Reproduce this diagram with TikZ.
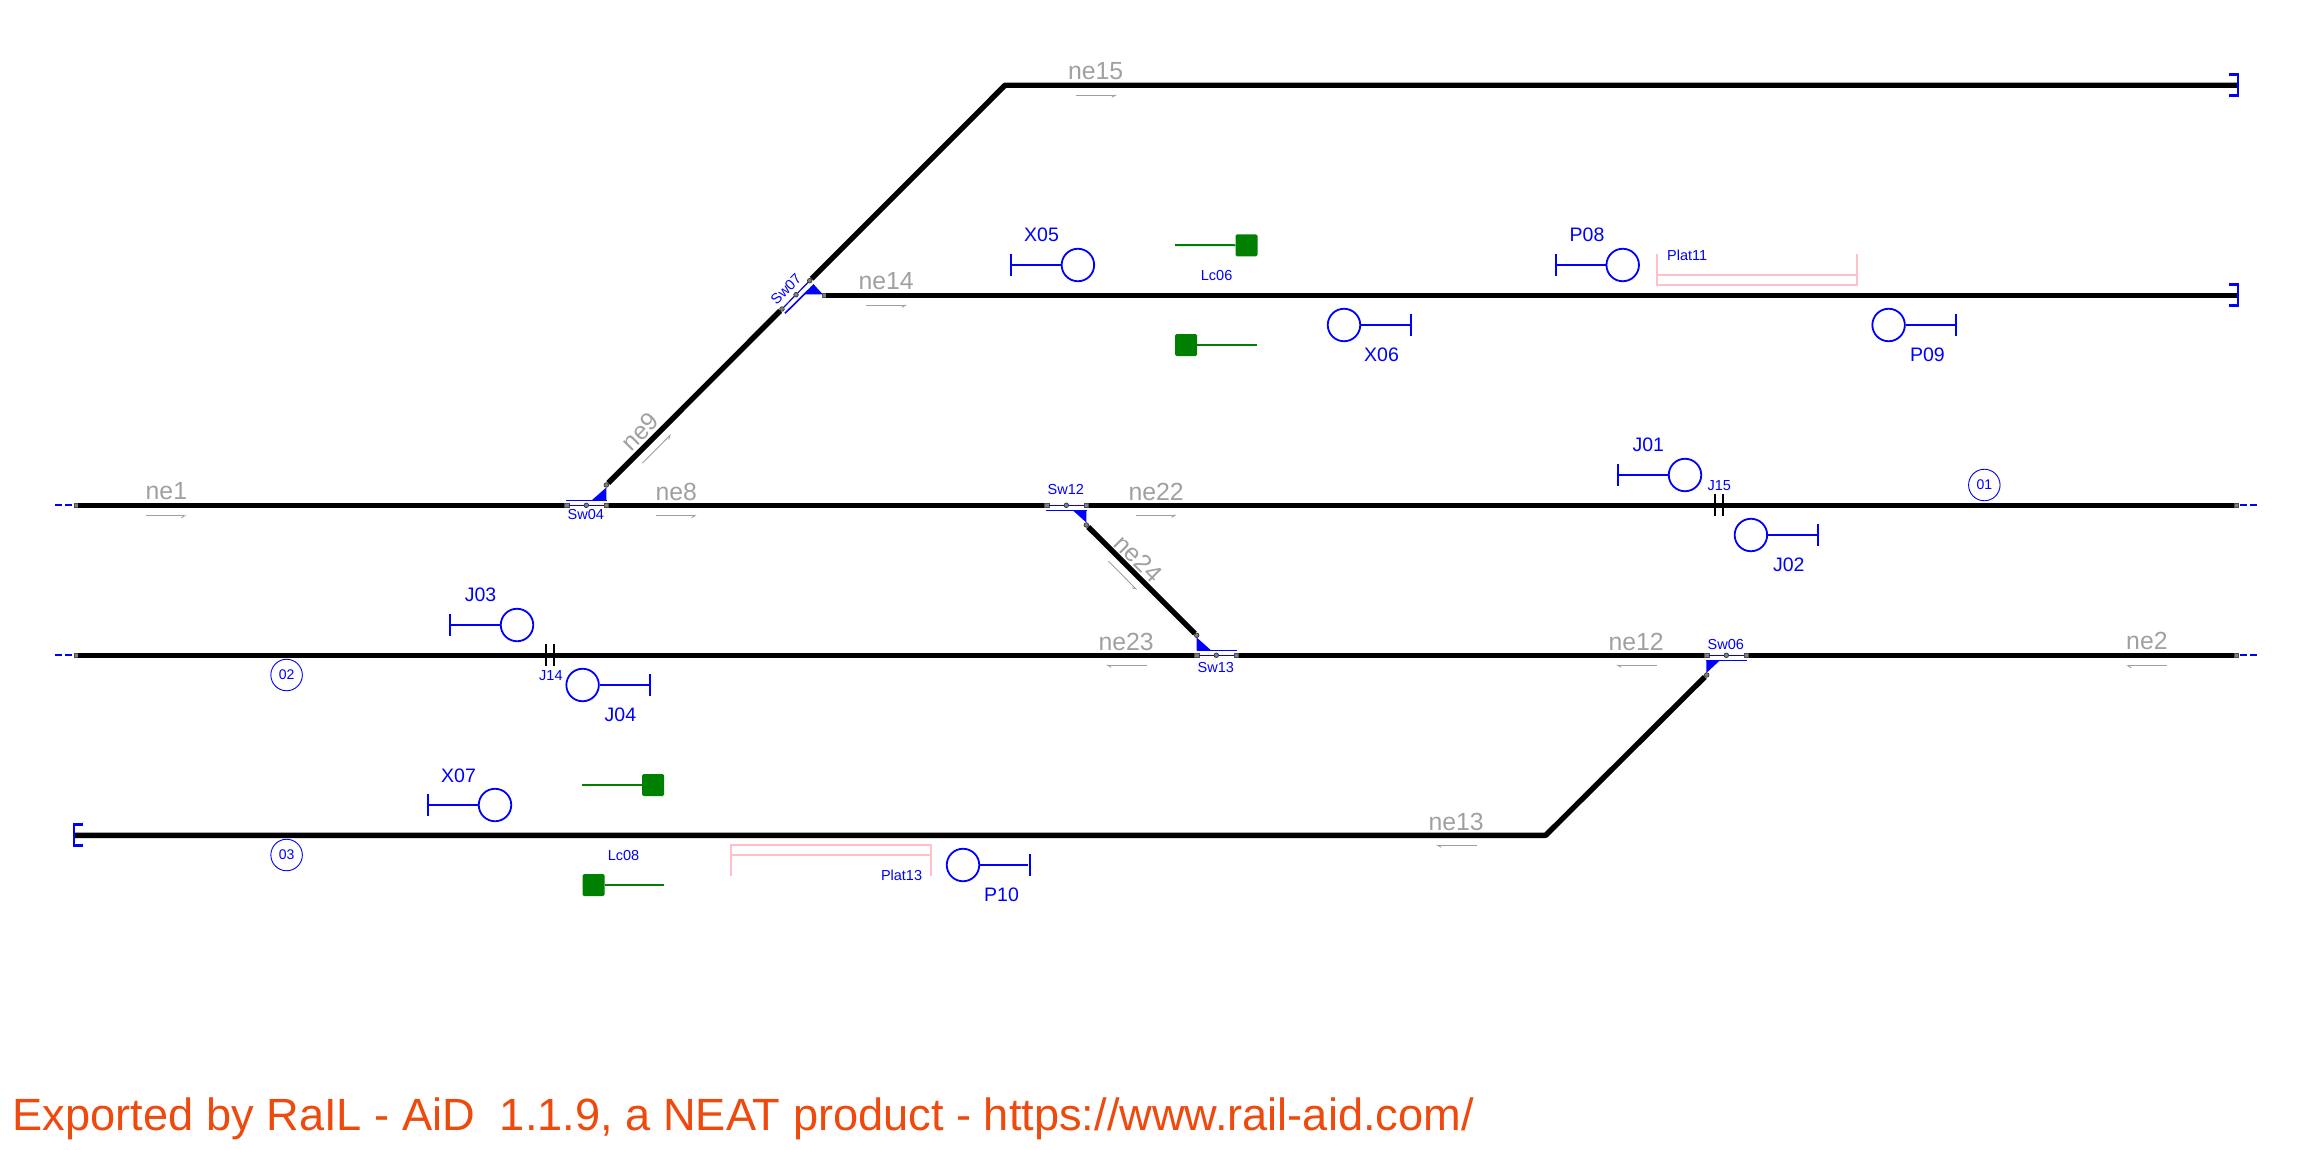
\documentclass[tikz,border=0pt]{standalone}
\usepackage{fontspec}
\setmainfont{Liberation Sans}
\usetikzlibrary{arrows.meta}
\definecolor{sigblue}{RGB}{0,0,255}
\definecolor{lcgreen}{RGB}{0,128,0}
\definecolor{nelabel}{RGB}{160,160,160}
\definecolor{platpink}{RGB}{255,192,203}
\definecolor{exportred}{RGB}{238,74,14}
\tikzset{
 track/.style={line width=5.4pt, black, line join=round},
 thinsw/.style={line width=1.2pt, sigblue},
 swbar/.style={line width=1.6pt, sigblue},
 swtri/.style={fill=sigblue, draw=none},
 ptsq/.style={rectangle, draw=black!70, fill=black!50, line width=.5pt, inner sep=0, minimum size=4.2pt},
 ptrd/.style={circle, draw=black!80, fill=black!50, line width=.7pt, inner sep=0, minimum size=4.6pt},
 freeend/.style={line width=2pt, sigblue, dash pattern=on 7pt off 3pt},
 stopper/.style={line width=2.6pt, sigblue, line cap=rect},
 sigcirc/.style={circle, draw=sigblue, line width=1.8pt, inner sep=0, minimum size=32.5pt},
 sigbar/.style={rectangle, fill=sigblue, inner sep=0, minimum width=2pt, minimum height=22pt},
 sigline/.style={line width=2.2pt, sigblue},
 joint/.style={rectangle, fill=black, inner sep=0, minimum width=1.8pt, minimum height=22pt},
 lcsq/.style={rectangle, rounded corners=1.5pt, fill=lcgreen, inner sep=0, minimum size=22pt},
 lcline/.style={line width=2pt, lcgreen},
 plat/.style={line width=1.6pt, platpink},
 trkno/.style={circle, draw=sigblue, line width=.9pt, inner sep=0, minimum size=31.5pt, text=sigblue, font=\fontsize{14}{14}\selectfont},
 nelbl/.style={anchor=base west, inner sep=0, text=nelabel, font=\fontsize{24.8}{25}\selectfont},
 sglbl/.style={anchor=base west, inner sep=0, text=sigblue, font=\fontsize{19.5}{20}\selectfont},
 smlbl/.style={anchor=base west, inner sep=0, text=sigblue, font=\fontsize{14.5}{15}\selectfont},
 dirr/.style={line width=.9pt, nelabel, -{Straight Barb[right, length=3.5pt, width=4pt]}},
 dirl/.style={line width=.9pt, nelabel, -{Straight Barb[left, length=3.5pt, width=4pt]}},
}
\begin{document}
\begin{tikzpicture}[x=1pt, y=-1pt]
\useasboundingbox (0,0) rectangle (2312,1150);
\coordinate (fr1l) at (55,505.3);
\coordinate (fr1r) at (2257,505.3);
\coordinate (fr2l) at (55,655.3);
\coordinate (fr2r) at (2257,655.3);
\node[ptsq] (t1s) at (76,505.3){};
\node[ptsq] (t1e) at (2236.4,505.3){};
\node[ptsq] (t2s) at (76,655.3){};
\node[ptsq] (t2e) at (2236.4,655.3){};
\coordinate (t3s) at (75,835.3);
\coordinate (t3k) at (1545.7,835.3);
\coordinate (t14e) at (2238,295.3);
\coordinate (t15k) at (1005,85.3);
\coordinate (t15e) at (2238,85.3);
\node[ptsq] (sw04a) at (566.7,505.3){};
\node[ptrd] (sw04m) at (586.3,505.3){};
\node[ptsq] (sw04b) at (606.3,505.3){};
\node[ptrd] (sw04d) at (606.3,485){};
\node[ptsq] (sw12a) at (1046.7,505.3){};
\node[ptrd] (sw12m) at (1066.3,505.3){};
\node[ptsq] (sw12b) at (1086.3,505.3){};
\node[ptrd] (sw12d) at (1086.3,525){};
\node[ptsq] (sw13a) at (1196.7,655.3){};
\node[ptrd] (sw13m) at (1216.3,655.3){};
\node[ptsq] (sw13b) at (1236.3,655.3){};
\node[ptrd] (sw13d) at (1196.7,635.3){};
\node[ptsq] (sw06a) at (1706.7,655.3){};
\node[ptrd] (sw06m) at (1726.3,655.3){};
\node[ptsq] (sw06b) at (1746.3,655.3){};
\node[ptrd] (sw06d) at (1706.7,675){};
\node[ptrd] (sw07a) at (782,309){};
\node[ptrd] (sw07m) at (796,294.7){};
\node[ptrd] (sw07b) at (809.7,280.7){};
\node[ptsq] (sw07d) at (824,295.3){};
\draw[freeend] (fr1l) -- (t1s);
\draw[freeend] (fr2l) -- (t2s);
\draw[freeend] (fr1r) -- (t1e);
\draw[freeend] (fr2r) -- (t2e);
\draw[track] (t1s) -- (sw04a);
\draw[track] (sw04b) -- (sw12a);
\draw[track] (sw12b) -- (t1e);
\draw[track] (t2s) -- (sw13a);
\draw[track] (sw13b) -- (sw06a);
\draw[track] (sw06b) -- (t2e);
\draw[track] (t3s) -- (t3k) -- (sw06d);
\draw[track] (sw04d) -- (sw07a);
\draw[track] (sw12d) -- (sw13d);
\draw[track] (sw07d) -- (t14e);
\draw[track] (sw07b) -- (t15k) -- (t15e);
\draw[thinsw] (sw04a) -- (sw04m);
\draw[thinsw] (sw04m) -- (sw04b);
\draw[thinsw] (sw12a) -- (sw12m);
\draw[thinsw] (sw12m) -- (sw12b);
\draw[thinsw] (sw13a) -- (sw13m);
\draw[thinsw] (sw13m) -- (sw13b);
\draw[thinsw] (sw06a) -- (sw06m);
\draw[thinsw] (sw06m) -- (sw06b);
\draw[thinsw] (sw07a) -- (sw07m);
\draw[thinsw] (sw07m) -- (sw07b);
\draw[swbar] (566,500.3) -- (607,500.3);
\draw[swbar] (1046,510.3) -- (1087,510.3);
\draw[swbar] (1197,650.3) -- (1237,650.3);
\draw[swbar] (1706,660.3) -- (1747,660.3);
\draw[swbar] (785,313.3) -- (814,284.7);
\fill[swtri] (591.7,500.3) -- (606.3,500.3) -- (606.3,487.5) -- cycle;
\fill[swtri] (1072.7,510.3) -- (1086.3,510.3) -- (1086.3,522.5) -- cycle;
\fill[swtri] (1196.7,637.5) -- (1196.7,650.3) -- (1211,650.3) -- cycle;
\fill[swtri] (1706.3,660.3) -- (1720,660.3) -- (1706.3,673) -- cycle;
\fill[swtri] (814,284.7) -- (822.7,294.3) -- (804,294.3) -- cycle;
\draw[stopper] (81.7,824.3) -- (74,824.3) -- (74,845.5) -- (81.7,845.5);
\draw[stopper] (2230,74.3) -- (2238,74.3) -- (2238,95.5) -- (2230,95.5);
\draw[stopper] (2230,284.3) -- (2238,284.3) -- (2238,305.5) -- (2230,305.5);
\node[smlbl] (lsw04) at (567.5,519.5){Sw04};
\node[smlbl] (lsw12) at (1047.5,494){Sw12};
\node[smlbl] (lsw13) at (1197.5,672){Sw13};
\node[smlbl] (lsw06) at (1707.5,649.5){Sw06};
\node[smlbl, anchor=center, rotate=45] (lsw07) at (786,289){Sw07};
\node[nelbl] (lne1) at (145.5,499.3){ne1};
\node[nelbl] (lne8) at (655.3,500){ne8};
\node[nelbl, anchor=center, rotate=45] (lne9) at (640,431.7){ne9};
\node[nelbl] (lne14) at (858.3,290){ne14};
\node[nelbl] (lne15) at (1067.9,80){ne15};
\node[nelbl] (lne22) at (1128.3,500){ne22};
\node[nelbl, anchor=center, rotate=-45] (lne24) at (1138.3,558.7){ne24};
\node[nelbl] (lne23) at (1098.3,650){ne23};
\node[nelbl] (lne12) at (1608.3,650){ne12};
\node[nelbl] (lne13) at (1428.3,830){ne13};
\node[nelbl] (lne2) at (2126,649.3){ne2};
\draw[dirr] (146,515.7) -- (186.6,515.7);
\draw[dirr] (656,515.7) -- (696.7,515.7);
\draw[dirr] (642.3,463.3) -- (671,434.3);
\draw[dirr] (866,305.3) -- (907,305.3);
\draw[dirr] (1076,95.3) -- (1117,95.3);
\draw[dirr] (1136,515.3) -- (1176.7,515.3);
\draw[dirr] (1108.3,561) -- (1137,590);
\draw[dirl] (1146.7,665.3) -- (1106,665.3);
\draw[dirl] (1657,665.3) -- (1616,665.3);
\draw[dirl] (1477,845.3) -- (1436,845.3);
\draw[dirl] (2166.8,665.7) -- (2126,665.7);
\node[sigcirc] (j03) at (517,625){};
\node[sigbar] (j03b) at (450,625){};
\draw[sigline] (j03b) -- (j03);
\node[sglbl] (lj03) at (464.7,601.7){J03};
\node[sigcirc] (j04) at (582.6,685){};
\node[sigbar] (j04b) at (650,685){};
\draw[sigline] (j04b) -- (j04);
\node[sglbl] (lj04) at (604.5,721.7){J04};
\node[sigcirc] (j01) at (1685,475){};
\node[sigbar] (j01b) at (1617.8,475){};
\draw[sigline] (j01b) -- (j01);
\node[sglbl] (lj01) at (1632.3,451.7){J01};
\node[sigcirc] (j02) at (1750.9,535){};
\node[sigbar] (j02b) at (1818,535){};
\draw[sigline] (j02b) -- (j02);
\node[sglbl] (lj02) at (1772.8,571.7){J02};
\node[sigcirc] (x05) at (1077.9,265){};
\node[sigbar] (x05b) at (1011,265){};
\draw[sigline] (x05b) -- (x05);
\node[sglbl] (lx05) at (1024,241.7){X05};
\node[sigcirc] (x06) at (1344,325){};
\node[sigbar] (x06b) at (1411,325){};
\draw[sigline] (x06b) -- (x06);
\node[sglbl] (lx06) at (1364,361.7){X06};
\node[sigcirc] (p08) at (1622.7,265){};
\node[sigbar] (p08b) at (1556,265){};
\draw[sigline] (p08b) -- (p08);
\node[sglbl] (lp08) at (1569.5,241.7){P08};
\node[sigcirc] (p09) at (1888.6,325){};
\node[sigbar] (p09b) at (1956,325){};
\draw[sigline] (p09b) -- (p09);
\node[sglbl] (lp09) at (1909.8,361.7){P09};
\node[sigcirc] (x07) at (495,805){};
\node[sigbar] (x07b) at (427.7,805){};
\draw[sigline] (x07b) -- (x07);
\node[sglbl] (lx07) at (441,782.3){X07};
\node[sigcirc] (p10) at (963,865){};
\node[sigbar] (p10b) at (1029.5,865){};
\draw[sigline] (p10b) -- (p10);
\node[sglbl] (lp10) at (984,901.7){P10};
\node[joint] (j14a) at (546,655.3){};
\node[joint] (j14b) at (554,655.3){};
\node[smlbl] (lj14) at (539,680.7){J14};
\node[joint] (j15a) at (1715,505.3){};
\node[joint] (j15b) at (1723,505.3){};
\node[smlbl] (lj15) at (1707.4,490.3){J15};
\node[trkno] (no01) at (1984.3,485){01};
\node[trkno] (no02) at (286.6,675){02};
\node[trkno] (no03) at (286.6,855){03};
\coordinate (lc06ae) at (1175,245);
\node[lcsq] (lc06a) at (1246.5,245.3){};
\draw[lcline] (lc06a) -- (lc06ae);
\coordinate (lc06be) at (1257,345);
\node[lcsq] (lc06b) at (1186,345){};
\draw[lcline] (lc06b) -- (lc06be);
\node[smlbl] (llc06) at (1200.7,280.7){Lc06};
\coordinate (lc08ae) at (582,785);
\node[lcsq] (lc08a) at (653,785){};
\draw[lcline] (lc08a) -- (lc08ae);
\coordinate (lc08be) at (663.8,885);
\node[lcsq] (lc08b) at (593.5,885){};
\draw[lcline] (lc08b) -- (lc08be);
\node[smlbl] (llc08) at (607.6,860.7){Lc08};
\draw[plat] (1657,254) -- (1657,285) -- (1857,285) -- (1857,254);
\draw[plat] (1657,275) -- (1857,275);
\node[smlbl] (lplat11) at (1667,260.7){Plat11};
\draw[plat] (730.8,875.7) -- (730.8,845) -- (930.8,845) -- (930.8,875.7);
\draw[plat] (730.8,855) -- (930.8,855);
\node[smlbl] (lplat13) at (880.8,880.7){Plat13};
\node[anchor=base west, inner sep=0, text=exportred, font=\fontsize{45.2}{46}\selectfont] (lexport) at (12.5,1130){Exported by RaIL - AiD\ \ 1.1.9, a NEAT product - https://www.rail-aid.com/};
\end{tikzpicture}
\end{document}
